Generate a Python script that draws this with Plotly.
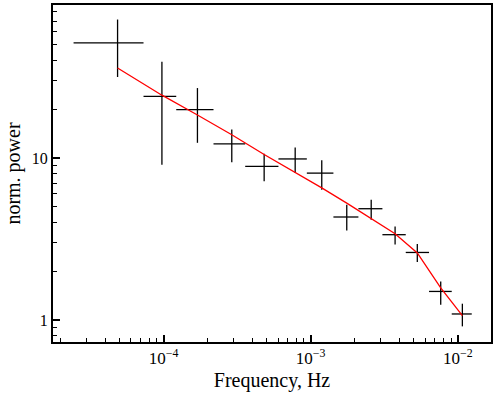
import numpy as np
import plotly.graph_objects as go

# ---- data ----
freq = [4.87e-5, 9.75e-5, 1.70e-4, 2.91e-4, 4.83e-4, 7.85e-4, 1.19e-3,
        1.76e-3, 2.58e-3, 3.75e-3, 5.31e-3, 7.66e-3, 1.075e-2]
bin_lo = [2.446e-5, 7.31e-5, 1.22e-4, 2.186e-4, 3.59e-4, 6.04e-4, 9.42e-4,
          1.428e-3, 2.112e-3, 3.075e-3, 4.43e-3, 6.38e-3, 9.10e-3]
bin_hi = [7.31e-5, 1.22e-4, 2.186e-4, 3.59e-4, 6.04e-4, 9.42e-4, 1.428e-3,
          2.112e-3, 3.075e-3, 4.43e-3, 6.38e-3, 9.10e-3, 1.245e-2]
power = [51.3, 24.0, 19.9, 12.2, 8.87, 9.86, 8.06, 4.32, 4.86, 3.36, 2.61, 1.50, 1.089]
power_hi = [71.5, 39.3, 27.0, 15.0, 10.6, 11.6, 9.67, 5.15, 5.53, 3.78, 2.94, 1.73, 1.26]
power_lo = [31.6, 9.09, 12.4, 9.4, 7.17, 8.08, 6.37, 3.57, 4.16, 2.92, 2.28, 1.243, 0.913]
model = [35.9, 24.4, 18.4, 13.9, 10.5, 8.14, 6.53, 5.26, 4.20, 3.41, 2.59, 1.576, 1.063]

xticks = [1e-4, 1e-3, 1e-2]
xticktext = ['10<sup>\u22124</sup>', '10<sup>\u22123</sup>', '10<sup>\u22122</sup>']
yticks = [1, 10]
yticktext = ['1', '10']

f = np.array(freq)
p = np.array(power)

fig = go.Figure()

fig.add_trace(go.Scatter(
    x=freq, y=power,
    mode='markers',
    marker=dict(size=1, opacity=0),
    error_x=dict(type='data', symmetric=False,
                 array=np.array(bin_hi) - f, arrayminus=f - np.array(bin_lo),
                 color='black', thickness=1.3, width=0),
    error_y=dict(type='data', symmetric=False,
                 array=np.array(power_hi) - p, arrayminus=p - np.array(power_lo),
                 color='black', thickness=1.3, width=0),
    showlegend=False
))

fig.add_trace(go.Scatter(
    x=freq, y=model,
    mode='lines',
    line=dict(color='red', width=1.3),
    showlegend=False
))

# minor ticks 2..9 per decade
xminor = [m * 10.0 ** d for d in range(-5, -1) for m in range(2, 10)]
yminor = [m * 10.0 ** d for d in range(-1, 2) for m in range(2, 10)]

font = 'Liberation Serif'
fig.update_layout(
    width=499, height=398,
    margin=dict(l=53, r=8, t=5, b=56),
    plot_bgcolor='white', paper_bgcolor='white',
    font=dict(family=font, color='black', size=16),
)
fig.update_xaxes(
    type='log', range=[-4.7514, -1.774], automargin=False,
    tickmode='array', tickvals=xticks, ticktext=xticktext,
    ticks='inside', ticklen=7, tickwidth=1.5, tickcolor='black',
    minor=dict(ticks='inside', ticklen=4, tickwidth=1.2, tickcolor='black',
               tickmode='array', tickvals=xminor, showgrid=False),
    showline=True, linecolor='black', linewidth=2, mirror=True,
    showgrid=False, zeroline=False,
    title=dict(text='Frequency, Hz', font=dict(family=font, size=20), standoff=6),
    tickfont=dict(family=font, size=17),
)
fig.update_yaxes(
    type='log', range=[-0.136, 1.944], automargin=False,
    tickmode='array', tickvals=yticks, ticktext=yticktext,
    ticks='inside', ticklen=7, tickwidth=1.5, tickcolor='black',
    minor=dict(ticks='inside', ticklen=4, tickwidth=1.2, tickcolor='black',
               tickmode='array', tickvals=yminor, showgrid=False),
    showline=True, linecolor='black', linewidth=2, mirror=True,
    showgrid=False, zeroline=False,
    title=dict(text='norm. power', font=dict(family=font, size=20), standoff=6),
    tickfont=dict(family=font, size=16),
)

# drop the browser's default page margin so the figure sits at the top-left corner
fig.write_html('out.html', config={'displayModeBar': False},
               post_script="document.body.style.margin='0';document.body.style.overflow='hidden';")
